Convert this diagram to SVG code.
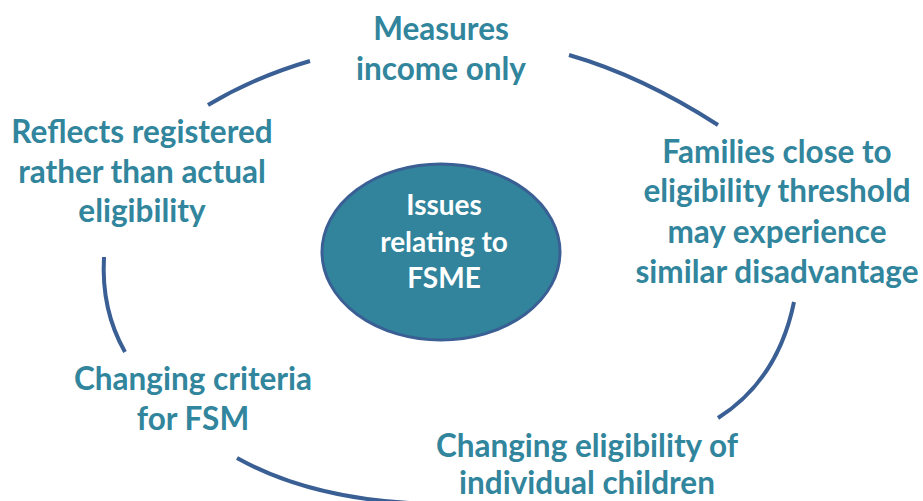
<svg xmlns="http://www.w3.org/2000/svg" width="923" height="501" viewBox="0 0 923 501">
<style>
.arc{fill:none;stroke:#3A5F94;stroke-width:4;}
.lbl{font-family:Lato,"Liberation Sans",sans-serif;font-weight:bold;font-size:31.5px;fill:#31859C;text-anchor:middle;}
.ctr{font-family:Lato,"Liberation Sans",sans-serif;font-weight:bold;font-size:28px;fill:#FFFFFF;text-anchor:middle;}
</style>
<rect width="923" height="501" fill="#FFFFFF"/>
<g id="connectors">
<path class="arc" d="M208,105 Q255,77 310,61"/>
<path class="arc" d="M569,55 Q642,76 718,125"/>
<path class="arc" d="M794,302 Q778,380 718,418"/>
<path class="arc" d="M237,458 Q318,503 440,504"/>
<path class="arc" d="M104,257 Q101,310 125,352"/>
</g>
<g id="center">
<ellipse cx="441" cy="252" rx="119" ry="88" fill="#31849B" stroke="#3A5F94" stroke-width="3"/>
<text class="ctr" x="444" y="215">Issues</text>
<text class="ctr" x="444" y="252">relating to</text>
<text class="ctr" x="444" y="288">FSME</text>
</g>
<g id="n-measures">
<text class="lbl" x="441" y="40">Measures</text>
<text class="lbl" x="441" y="80">income only</text>
</g>
<g id="n-families">
<text class="lbl" x="777" y="163">Families close to</text>
<text class="lbl" x="777" y="202">eligibility threshold</text>
<text class="lbl" x="777" y="243">may experience</text>
<text class="lbl" x="777" y="283">similar disadvantage</text>
</g>
<g id="n-children">
<text class="lbl" x="587" y="457">Changing eligibility of</text>
<text class="lbl" x="587" y="494">individual children</text>
</g>
<g id="n-criteria">
<text class="lbl" x="193" y="390">Changing criteria</text>
<text class="lbl" x="193" y="430">for FSM</text>
</g>
<g id="n-reflects">
<text class="lbl" x="142" y="143">Reflects registered</text>
<text class="lbl" x="142" y="183">rather than actual</text>
<text class="lbl" x="142" y="222">eligibility</text>
</g>
</svg>
